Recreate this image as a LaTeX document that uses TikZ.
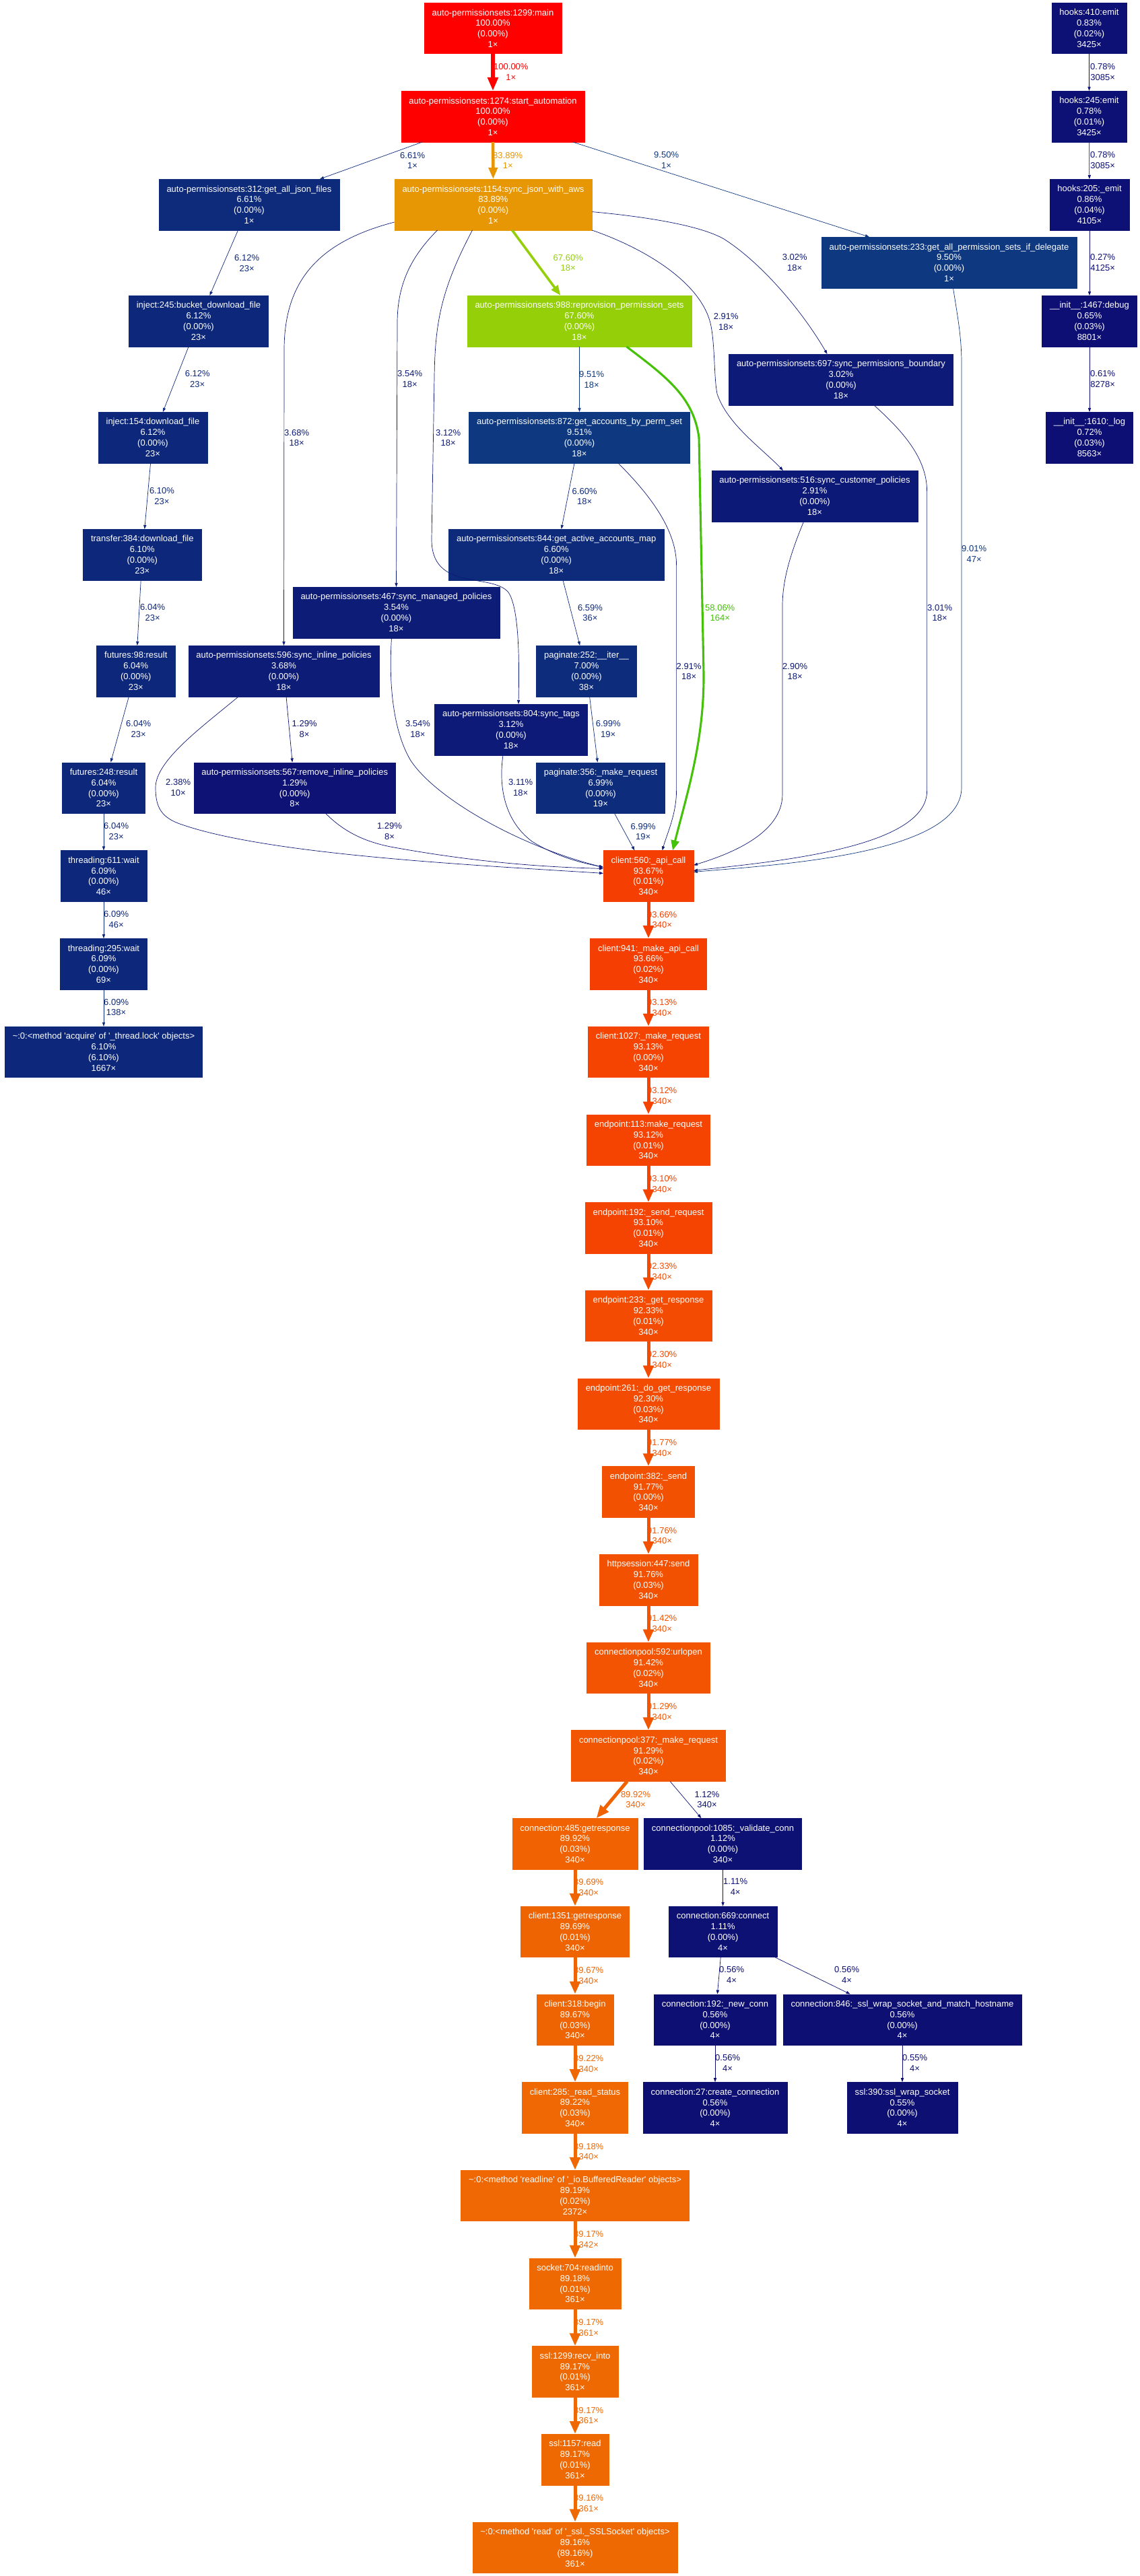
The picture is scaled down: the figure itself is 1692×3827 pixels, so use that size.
\documentclass[tikz,border=0pt]{standalone}
\usepackage{fontspec}
\newfontfamily\gfont{Liberation Sans}
\usetikzlibrary{arrows.meta}
\definecolor{cR}{HTML}{FF0000}
\definecolor{cO}{HTML}{E79604}
\definecolor{cY}{HTML}{94CF07}
\definecolor{cG}{HTML}{44C108}
\definecolor{k1}{HTML}{F53F02}
\definecolor{k2}{HTML}{F54402}
\definecolor{k3}{HTML}{F34C02}
\definecolor{k4}{HTML}{F25102}
\definecolor{k5}{HTML}{F25402}
\definecolor{k6}{HTML}{F25602}
\definecolor{k7}{HTML}{F06202}
\definecolor{k8}{HTML}{EF6402}
\definecolor{k9}{HTML}{EF6803}
\definecolor{k10}{HTML}{EF6903}
\definecolor{nA}{HTML}{0D1074}
\definecolor{nB}{HTML}{0D0F74}
\definecolor{nC}{HTML}{0D2A7B}
\definecolor{nD}{HTML}{0D287B}
\definecolor{nE}{HTML}{0D277A}
\definecolor{nF}{HTML}{0E387F}
\definecolor{nG}{HTML}{0D1A77}
\definecolor{nH}{HTML}{0D1977}
\definecolor{nI}{HTML}{0D1C77}
\definecolor{nJ}{HTML}{0D2C7C}
\definecolor{nK}{HTML}{0D1274}
\definecolor{nL}{HTML}{0D1174}
\definecolor{nM}{HTML}{0D0F73}
\definecolor{nN}{HTML}{0D367E}
\definecolor{nO}{HTML}{0D1776}
\definecolor{nP}{HTML}{0D0E73}
\tikzset{
  fn/.style={rectangle, fill=#1, draw=#1, line width=0.5pt, text=white,
    font=\gfont\fontsize{13pt}{15.8pt}\selectfont, align=center,
    inner xsep=11.5pt, inner ysep=0pt, minimum height=75.5pt},
  lb/.style={text=#1, font=\gfont\fontsize{13pt}{15.8pt}\selectfont,
    align=center, inner sep=0pt, anchor=west},
  ethin/.style={draw=#1, line width=0.7pt, -{Triangle[length=6pt,width=4.2pt]}},
  ethick/.style={draw=#1, line width=5pt, -{Triangle[length=19pt,width=15pt]}},
  eR/.style={draw=cR, line width=5.3pt, -{Triangle[length=20pt,width=15pt]}},
  eO/.style={draw=cO, line width=4.5pt, -{Triangle[length=17pt,width=13pt]}},
  eY/.style={draw=cY, line width=3.6pt, -{Triangle[length=15pt,width=11.5pt]}},
  eG/.style={draw=cG, line width=3.1pt, -{Triangle[length=15pt,width=12pt]}},
}
\begin{document}
\begin{tikzpicture}[x=1pt,y=-1pt]
\fill[white] (0,0) rectangle (1692,3827);
\useasboundingbox (0,0) rectangle (1692,3827);

% ---------------- nodes ----------------
\node[fn=cR] (main) at (732,42) {auto-permissionsets:1299:main\\100.00\%\\(0.00\%)\\1×};
\node[fn=cR] (start) at (732,173) {auto-permissionsets:1274:start\_automation\\100.00\%\\(0.00\%)\\1×};
\node[fn=cO] (sync) at (732.5,304) {auto-permissionsets:1154:sync\_json\_with\_aws\\83.89\%\\(0.00\%)\\1×};
\node[fn=nC] (json) at (370,304) {auto-permissionsets:312:get\_all\_json\_files\\6.61\%\\(0.00\%)\\1×};
\node[fn=nA] (hA) at (1617.5,42) {hooks:410:emit\\0.83\%\\(0.02\%)\\3425×};
\node[fn=nA] (hB) at (1617.5,173) {hooks:245:emit\\0.78\%\\(0.01\%)\\3425×};
\node[fn=nA] (hC) at (1618,304) {hooks:205:\_emit\\0.86\%\\(0.04\%)\\4105×};
\node[fn=nB] (dbg) at (1618,477) {\_\_init\_\_:1467:debug\\0.65\%\\(0.03\%)\\8801×};
\node[fn=nB] (lg) at (1618,650) {\_\_init\_\_:1610:\_log\\0.72\%\\(0.03\%)\\8563×};
\node[fn=nF] (a233) at (1409.5,390) {auto-permissionsets:233:get\_all\_permission\_sets\_if\_delegate\\9.50\%\\(0.00\%)\\1×};
\node[fn=nD] (bucket) at (295,477) {inject:245:bucket\_download\_file\\6.12\%\\(0.00\%)\\23×};
\node[fn=cY] (reprov) at (860.5,477) {auto-permissionsets:988:reprovision\_permission\_sets\\67.60\%\\(0.00\%)\\18×};
\node[fn=nG] (b697) at (1249,564) {auto-permissionsets:697:sync\_permissions\_boundary\\3.02\%\\(0.00\%)\\18×};
\node[fn=nD] (inj) at (227,650) {inject:154:download\_file\\6.12\%\\(0.00\%)\\23×};
\node[fn=nF] (getacc) at (860.5,650) {auto-permissionsets:872:get\_accounts\_by\_perm\_set\\9.51\%\\(0.00\%)\\18×};
\node[fn=nH] (s516) at (1210,737) {auto-permissionsets:516:sync\_customer\_policies\\2.91\%\\(0.00\%)\\18×};
\node[fn=nD] (tr) at (211.3,824) {transfer:384:download\_file\\6.10\%\\(0.00\%)\\23×};
\node[fn=nC] (m844) at (826.2,824) {auto-permissionsets:844:get\_active\_accounts\_map\\6.60\%\\(0.00\%)\\18×};
\node[fn=nI] (m467) at (588.5,910) {auto-permissionsets:467:sync\_managed\_policies\\3.54\%\\(0.00\%)\\18×};
\node[fn=nE] (f98) at (201.8,997) {futures:98:result\\6.04\%\\(0.00\%)\\23×};
\node[fn=nI] (s596) at (421.5,997) {auto-permissionsets:596:sync\_inline\_policies\\3.68\%\\(0.00\%)\\18×};
\node[fn=nJ] (p252) at (871,997) {paginate:252:\_\_iter\_\_\\7.00\%\\(0.00\%)\\38×};
\node[fn=nG] (s804) at (759,1084) {auto-permissionsets:804:sync\_tags\\3.12\%\\(0.00\%)\\18×};
\node[fn=nE] (f248) at (154,1170.5) {futures:248:result\\6.04\%\\(0.00\%)\\23×};
\node[fn=nK] (r567) at (437.7,1170.5) {auto-permissionsets:567:remove\_inline\_policies\\1.29\%\\(0.00\%)\\8×};
\node[fn=nJ] (p356) at (892,1170.5) {paginate:356:\_make\_request\\6.99\%\\(0.00\%)\\19×};
\node[fn=nE] (t611) at (154,1301.4) {threading:611:wait\\6.09\%\\(0.00\%)\\46×};
\node[fn=k1] (c560) at (963,1301.4) {client:560:\_api\_call\\93.67\%\\(0.01\%)\\340×};
\node[fn=nE] (t295) at (154,1432.1) {threading:295:wait\\6.09\%\\(0.00\%)\\69×};
\node[fn=k1] (c941) at (963,1432.1) {client:941:\_make\_api\_call\\93.66\%\\(0.02\%)\\340×};
\node[fn=nD] (acq) at (154,1562.8) {\textasciitilde:0:<method 'acquire' of '\_thread.lock' objects>\\6.10\%\\(6.10\%)\\1667×};
\node[fn=k2] (c1027) at (963,1562.8) {client:1027:\_make\_request\\93.13\%\\(0.00\%)\\340×};
\node[fn=k2] (e113) at (963,1693.5) {endpoint:113:make\_request\\93.12\%\\(0.01\%)\\340×};
\node[fn=k2] (e192) at (963,1824.2) {endpoint:192:\_send\_request\\93.10\%\\(0.01\%)\\340×};
\node[fn=k3] (e233) at (963,1954.9) {endpoint:233:\_get\_response\\92.33\%\\(0.01\%)\\340×};
\node[fn=k3] (e261) at (963,2085.6) {endpoint:261:\_do\_get\_response\\92.30\%\\(0.03\%)\\340×};
\node[fn=k4] (e382) at (963,2216.3) {endpoint:382:\_send\\91.77\%\\(0.00\%)\\340×};
\node[fn=k4] (hs447) at (963,2347) {httpsession:447:send\\91.76\%\\(0.03\%)\\340×};
\node[fn=k5] (cp592) at (963,2477.7) {connectionpool:592:urlopen\\91.42\%\\(0.02\%)\\340×};
\node[fn=k6] (cp377) at (963,2608.4) {connectionpool:377:\_make\_request\\91.29\%\\(0.02\%)\\340×};
\node[fn=k7] (cn485) at (854,2739.1) {connection:485:getresponse\\89.92\%\\(0.03\%)\\340×};
\node[fn=nL] (cp1085) at (1073.5,2739.1) {connectionpool:1085:\_validate\_conn\\1.12\%\\(0.00\%)\\340×};
\node[fn=k8] (cl1351) at (854,2869.8) {client:1351:getresponse\\89.69\%\\(0.01\%)\\340×};
\node[fn=nL] (cn669) at (1073.6,2869.8) {connection:669:connect\\1.11\%\\(0.00\%)\\4×};
\node[fn=k8] (cl318) at (854,3000.5) {client:318:begin\\89.67\%\\(0.03\%)\\340×};
\node[fn=nM] (cn192) at (1062,3000.5) {connection:192:\_new\_conn\\0.56\%\\(0.00\%)\\4×};
\node[fn=nM] (cn846) at (1340,3000.5) {connection:846:\_ssl\_wrap\_socket\_and\_match\_hostname\\0.56\%\\(0.00\%)\\4×};
\node[fn=k9] (cl285) at (854,3131.2) {client:285:\_read\_status\\89.22\%\\(0.03\%)\\340×};
\node[fn=nM] (cn27) at (1062,3131.2) {connection:27:create\_connection\\0.56\%\\(0.00\%)\\4×};
\node[fn=nM] (ssl390) at (1340,3131.2) {ssl:390:ssl\_wrap\_socket\\0.55\%\\(0.00\%)\\4×};
\node[fn=k9] (rdl) at (854,3261.9) {\textasciitilde:0:<method 'readline' of '\_io.BufferedReader' objects>\\89.19\%\\(0.02\%)\\2372×};
\node[fn=k10] (sk704) at (854,3392.6) {socket:704:readinto\\89.18\%\\(0.01\%)\\361×};
\node[fn=k10] (ssl1299) at (854,3523.3) {ssl:1299:recv\_into\\89.17\%\\(0.01\%)\\361×};
\node[fn=k10] (ssl1157) at (854,3654) {ssl:1157:read\\89.17\%\\(0.01\%)\\361×};
\node[fn=k10] (rd) at (854,3784.7) {\textasciitilde:0:<method 'read' of '\_ssl.\_SSLSocket' objects>\\89.16\%\\(89.16\%)\\361×};

% ---------------- edge labels ----------------
\node[lb=cR] (l1) at (733,107) {100.00\%\\1×};
\node[lb=nC] (l2) at (594,238.5) {6.61\%\\1×};
\node[lb=cO] (l3) at (732,238.5) {83.89\%\\1×};
\node[lb=nF] (l4) at (971,238) {9.50\%\\1×};
\node[lb=cY] (l5) at (821.5,390.5) {67.60\%\\18×};
\node[lb=nG] (l6) at (1161.6,390) {3.02\%\\18×};
\node[lb=nH] (l7) at (1059.6,478) {2.91\%\\18×};
\node[lb=nI] (l8) at (422,650.5) {3.68\%\\18×};
\node[lb=nI] (l9) at (590,563.4) {3.54\%\\18×};
\node[lb=nG] (l10) at (647,650.5) {3.12\%\\18×};
\node[lb=nD] (l11) at (348,390.7) {6.12\%\\23×};
\node[lb=nD] (l12) at (274.6,563.4) {6.12\%\\23×};
\node[lb=nD] (l13) at (221.8,737) {6.10\%\\23×};
\node[lb=nE] (l14) at (208,910) {6.04\%\\23×};
\node[lb=nE] (l15) at (187,1083) {6.04\%\\23×};
\node[lb=nE] (l16) at (154,1235) {6.04\%\\23×};
\node[lb=nE] (l17) at (154,1366) {6.09\%\\46×};
\node[lb=nE] (l18) at (154,1496.6) {6.09\%\\138×};
\node[lb=nF] (l19) at (860,564) {9.51\%\\18×};
\node[lb=nC] (l20) at (849.5,737.5) {6.60\%\\18×};
\node[lb=nC] (l21) at (857.8,910.5) {6.59\%\\36×};
\node[lb=nJ] (l22) at (884.6,1083.4) {6.99\%\\19×};
\node[lb=nJ] (l23) at (936.5,1235.5) {6.99\%\\19×};
\node[lb=nH] (l24) at (1004.5,997.6) {2.91\%\\18×};
\node[lb=cG] (l25) at (1047,910.5) {58.06\%\\164×};
\node[lb=nH] (l26) at (1162,997.6) {2.90\%\\18×};
\node[lb=nG] (l27) at (1377,910.5) {3.01\%\\18×};
\node[lb=nN] (l28) at (1428,823) {9.01\%\\47×};
\node[lb=nK] (l29) at (433.5,1083.4) {1.29\%\\8×};
\node[lb=nO] (l30) at (246,1170) {2.38\%\\10×};
\node[lb=nK] (l31) at (559.8,1235.4) {1.29\%\\8×};
\node[lb=nI] (l32) at (601.8,1083.4) {3.54\%\\18×};
\node[lb=nG] (l33) at (755,1170) {3.11\%\\18×};
\node[lb=nA] (h1) at (1619,107) {0.78\%\\3085×};
\node[lb=nA] (h2) at (1619,238) {0.78\%\\3085×};
\node[lb=nP] (h3) at (1619,390) {0.27\%\\4125×};
\node[lb=nB] (h4) at (1619,563) {0.61\%\\8278×};
\node[lb=k1] (o1) at (961,1366.6) {93.66\%\\340×};
\node[lb=k2] (o2) at (961,1497.3) {93.13\%\\340×};
\node[lb=k2] (o3) at (961,1628) {93.12\%\\340×};
\node[lb=k2] (o4) at (961,1758.7) {93.10\%\\340×};
\node[lb=k3] (o5) at (961,1889.4) {92.33\%\\340×};
\node[lb=k3] (o6) at (961,2020) {92.30\%\\340×};
\node[lb=k4] (o7) at (961,2150.8) {91.77\%\\340×};
\node[lb=k4] (o8) at (961,2281.5) {91.76\%\\340×};
\node[lb=k5] (o9) at (961,2412.2) {91.42\%\\340×};
\node[lb=k6] (o10) at (961,2543) {91.29\%\\340×};
\node[lb=k7] (o11) at (921.8,2673.5) {89.92\%\\340×};
\node[lb=nL] (o12) at (1031.4,2673.5) {1.12\%\\340×};
\node[lb=k8] (o13) at (852,2804) {89.69\%\\340×};
\node[lb=k8] (o14) at (852,2935) {89.67\%\\340×};
\node[lb=k9] (o15) at (852,3065.7) {89.22\%\\340×};
\node[lb=k9] (o16) at (852,3196.4) {89.18\%\\340×};
\node[lb=k10] (o17) at (852,3327.1) {89.17\%\\342×};
\node[lb=k10] (o18) at (852,3457.8) {89.17\%\\361×};
\node[lb=k10] (o19) at (852,3588.5) {89.17\%\\361×};
\node[lb=k10] (o20) at (852,3719.2) {89.16\%\\361×};
\node[lb=nL] (o21) at (1074,2803) {1.11\%\\4×};
\node[lb=nM] (o22) at (1068,2934) {0.56\%\\4×};
\node[lb=nM] (o23) at (1239,2934) {0.56\%\\4×};
\node[lb=nM] (o24) at (1062,3065) {0.56\%\\4×};
\node[lb=nM] (o25) at (1340,3065) {0.55\%\\4×};

% ---------------- edges ----------------
\draw[eR] (main) -- (start);
\draw[eO] (start) -- (sync);
\draw[ethin=nC] (start) -- (json);
\draw[ethin=nF] (start) -- (a233);
\draw[eY] (sync) -- (reprov);

\draw[ethin=nI] ([yshift=-26pt]sync.west) .. controls (470,360) and (422,420) .. (422,520) -- (s596.north);
\draw[ethin=nI] ([xshift=-83pt]sync.south) .. controls (612,380) and (590,420) .. (590,480) -- (m467.north);
\draw[ethin=nG] ([xshift=-31pt]sync.south) .. controls (655,430) and (646,480) .. (645,560) -- (641,800) .. controls (640,880) and (730,850) .. (755,880) .. controls (772,905) and (771,990) .. ([xshift=11pt]s804.north);
\draw[ethin=nG] ([yshift=-10.6pt]sync.east) .. controls (960,322) and (1040,335) .. (1075,355) .. controls (1130,390) and (1190,460) .. ([xshift=-20.5pt]b697.north);
\draw[ethin=nH] (sync.south east) .. controls (960,370) and (1040,420) .. (1055,480) .. controls (1062,510) and (1060,560) .. (1065,585) .. controls (1080,630) and (1130,665) .. ([xshift=-47pt]s516.north);

\draw[ethin=nD] (json) -- (bucket);
\draw[ethin=nD] (bucket) -- (inj);
\draw[ethin=nD] (inj) -- (tr);
\draw[ethin=nE] (tr) -- (f98);
\draw[ethin=nE] (f98) -- (f248);
\draw[ethin=nE] (f248) -- (t611);
\draw[ethin=nE] (t611) -- (t295);
\draw[ethin=nE] (t295) -- (acq);

\draw[ethin=nF] (reprov) -- (getacc);
\draw[ethin=nC] (getacc) -- (m844);
\draw[ethin=nC] (m844) -- (p252);
\draw[ethin=nJ] (p252) -- (p356);
\draw[ethin=nJ] (p356) -- (c560);
\draw[ethin=nK] (s596) -- (r567);

\draw[eG] ([xshift=70pt]reprov.south) .. controls (990,560) and (1030,590) .. (1038,650) -- (1045,1000) .. controls (1046,1100) and (1020,1180) .. ([xshift=36pt]c560.north);
\draw[ethin=nH] ([xshift=57.5pt]getacc.south) .. controls (970,740) and (1004.6,790) .. (1004.6,840) -- (1004.6,1174) .. controls (1004.6,1210) and (990,1240) .. ([xshift=20.6pt]c560.north);
\draw[ethin=nH] ([xshift=-16.5pt]s516.south) .. controls (1175,820) and (1162,860) .. (1162,900) -- (1162,1180) .. controls (1162,1240) and (1080,1270) .. ([yshift=16pt]c560.east);
\draw[ethin=nG] ([xshift=49pt]b697.south) .. controls (1340,640) and (1376.6,680) .. (1376.6,730) -- (1376.6,1175) .. controls (1376.6,1260) and (1150,1280) .. ([yshift=8pt]c560.east);
\draw[ethin=nN] ([xshift=6pt]a233.south) .. controls (1422,470) and (1428,500) .. (1428,540) -- (1428,1170) .. controls (1428,1270) and (1150,1285) .. ([yshift=6pt]c560.east);

\draw[ethin=nO] ([xshift=-67.5pt]s596.south) .. controls (300,1080) and (231,1130) .. (231,1170) .. controls (231,1200) and (240,1215) .. (270,1225) .. controls (400,1270) and (700,1285) .. ([yshift=4pt]c560.west);
\draw[ethin=nK] ([xshift=46pt]r567.south) .. controls (510,1235) and (540,1250) .. (580,1258) .. controls (700,1280) and (800,1288) .. ([yshift=11pt]c560.west);
\draw[ethin=nI] ([xshift=-7pt]m467.south) .. controls (578,1000) and (580,1080) .. (610,1130) .. controls (650,1190) and (780,1260) .. ([yshift=13pt]c560.west);
\draw[ethin=nG] ([xshift=-12pt]s804.south) .. controls (740,1170) and (750,1220) .. (790,1250) .. controls (830,1275) and (870,1283) .. ([yshift=13pt]c560.west);

\draw[ethin=nA] (hA) -- (hB);
\draw[ethin=nA] (hB) -- (hC);
\draw[ethin=nP] (hC) -- (dbg);
\draw[ethin=nB] (dbg) -- (lg);

\draw[ethick=k1] (c560) -- (c941);
\draw[ethick=k2] (c941) -- (c1027);
\draw[ethick=k2] (c1027) -- (e113);
\draw[ethick=k2] (e113) -- (e192);
\draw[ethick=k3] (e192) -- (e233);
\draw[ethick=k3] (e233) -- (e261);
\draw[ethick=k4] (e261) -- (e382);
\draw[ethick=k4] (e382) -- (hs447);
\draw[ethick=k5] (hs447) -- (cp592);
\draw[ethick=k6] (cp592) -- (cp377);
\draw[ethick=k7] (cp377) -- (cn485);
\draw[ethin=nL] (cp377) -- (cp1085);
\draw[ethick=k8] (cn485) -- (cl1351);
\draw[ethick=k8] (cl1351) -- (cl318);
\draw[ethick=k9] (cl318) -- (cl285);
\draw[ethick=k9] (cl285) -- (rdl);
\draw[ethick=k10] (rdl) -- (sk704);
\draw[ethick=k10] (sk704) -- (ssl1299);
\draw[ethick=k10] (ssl1299) -- (ssl1157);
\draw[ethick=k10] (ssl1157) -- (rd);
\draw[ethin=nL] (cp1085) -- (cn669);
\draw[ethin=nM] (cn669) -- (cn192);
\draw[ethin=nM] (cn669) -- (cn846);
\draw[ethin=nM] (cn192) -- (cn27);
\draw[ethin=nM] (cn846) -- (ssl390);
\end{tikzpicture}
\end{document}
